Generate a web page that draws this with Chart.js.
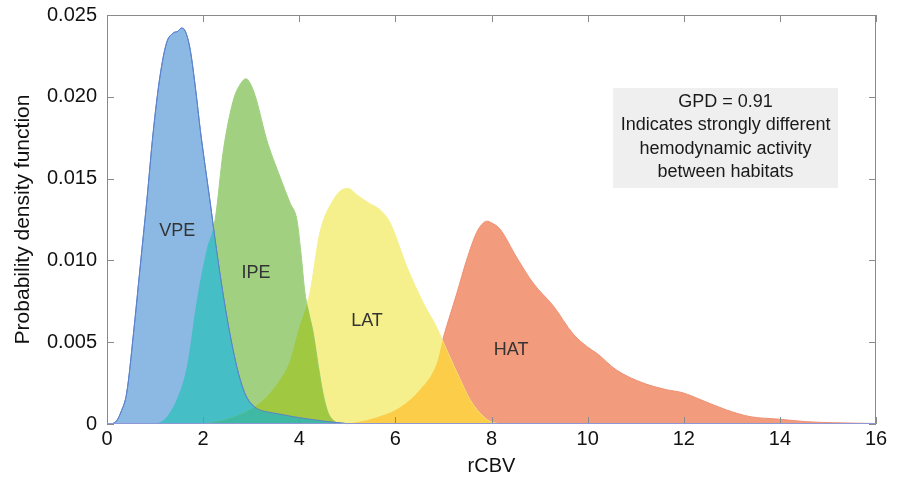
<!DOCTYPE html>
<html>
<head>
<meta charset="utf-8">
<script src="https://cdn.jsdelivr.net/npm/chart.js@4/dist/chart.umd.min.js"></script>
<style>
  html, body { margin: 0; padding: 0; background: #ffffff; }
  #wrap { width: 904px; height: 480px; }
</style>
</head>
<body>
<div id="wrap"><canvas id="c" width="904" height="480"></canvas></div>
<script>
// ---- data ----
const seriesNames = ['VPE', 'IPE', 'LAT', 'HAT'];

const vpeX = [0, 0.1, 0.2, 0.3, 0.41, 0.55, 0.69, 0.83, 0.96, 1.10, 1.24, 1.38, 1.47, 1.55, 1.63, 1.73, 1.85, 1.94, 2.04, 2.14, 2.28, 2.49, 2.70, 2.85, 2.98, 3.15, 3.32, 3.6, 3.87, 4.2, 4.5, 4.8, 5.0];
const vpeY = [0, 0.00002, 0.0002, 0.0008, 0.0019, 0.0055, 0.0096, 0.0137, 0.0178, 0.0212, 0.0233, 0.0239, 0.0240, 0.0242, 0.0240, 0.0229, 0.0203, 0.0180, 0.0158, 0.0137, 0.0106, 0.0066, 0.0035, 0.0020, 0.0013, 0.0009, 0.00075, 0.0006, 0.00045, 0.0003, 0.00018, 0.00008, 0.00002];

const ipeX = [1.0, 1.2, 1.45, 1.66, 1.87, 2.07, 2.25, 2.42, 2.63, 2.78, 2.89, 3.0, 3.11, 3.32, 3.6, 3.81, 3.95, 4.03, 4.12, 4.2, 4.29, 4.4, 4.5, 4.6, 4.72, 4.85];
const ipeY = [0, 0.0003, 0.0015, 0.0035, 0.0076, 0.0106, 0.0125, 0.0167, 0.0198, 0.0208, 0.0211, 0.0207, 0.0198, 0.0174, 0.0151, 0.0135, 0.0125, 0.0106, 0.0080, 0.0068, 0.0056, 0.0035, 0.0018, 0.0007, 0.0002, 0];

const latX = [2.0, 2.5, 3.04, 3.3, 3.6, 3.8, 3.98, 4.22, 4.43, 4.71, 4.88, 5.02, 5.2, 5.45, 5.68, 5.89, 6.24, 6.58, 6.86, 7.07, 7.35, 7.55, 7.83, 8.0, 8.2];
const latY = [0, 0.0003, 0.0010, 0.0016, 0.0027, 0.0038, 0.0057, 0.0080, 0.0117, 0.0137, 0.0143, 0.0144, 0.0140, 0.0135, 0.0131, 0.0123, 0.0096, 0.0074, 0.0059, 0.0045, 0.0027, 0.0015, 0.00045, 0.00012, 0];

const hatX = [5.0, 5.2, 5.6, 6.03, 6.51, 6.86, 7.0, 7.28, 7.48, 7.69, 7.8, 7.9, 8.0, 8.18, 8.52, 8.87, 9.29, 9.7, 10.0, 10.2, 10.6, 11.16, 11.64, 11.99, 12.34, 12.89, 13.38, 14.0, 14.56, 15.1, 16.0];
const hatY = [0, 0.0001, 0.0004, 0.0009, 0.0021, 0.0037, 0.0053, 0.0080, 0.0100, 0.0117, 0.0122, 0.0124, 0.0123, 0.0119, 0.0102, 0.0086, 0.0072, 0.0055, 0.0047, 0.0043, 0.0033, 0.0025, 0.0021, 0.0019, 0.0015, 0.00086, 0.00045, 0.00029, 0.00014, 0.00008, 0.00003];

const xTickValues = [0, 2, 4, 6, 8, 10, 12, 14, 16];
const yTickValues = [0, 0.005, 0.010, 0.015, 0.020, 0.025];
const yTickLabels = ['0', '0.005', '0.010', '0.015', '0.020', '0.025'];

const noteLines = ['GPD = 0.91', 'Indicates strongly different', 'hemodynamic activity', 'between habitats'];

// ---- styling ----
const fillColors = ['#8cb9e4', '#a0d080', '#f5f08c', '#f29b7d'];
const borderColors = ['#5a82cc', '#a0d080', '#f5f08c', '#ee9072'];
const overlapStyles = [
  [0, 1, '#46bec6'],
  [1, 2, '#a0c840'],
  [2, 3, '#fccd48'],
  [0, 2, '#3fb9a4']
];
const labelPos = { VPE: [1.46, 0.0118], IPE: [3.10, 0.00923], LAT: [5.41, 0.0063], HAT: [8.41, 0.00452] };
const FONT = '"Liberation Sans", Arial, Helvetica, sans-serif';

function pts(xs, ys) { return xs.map((x, i) => ({ x: x, y: ys[i] })); }
const allX = [vpeX, ipeX, latX, hatX];
const allY = [vpeY, ipeY, latY, hatY];

const datasets = seriesNames.map((name, i) => ({
  label: name,
  data: pts(allX[i], allY[i]),
  backgroundColor: fillColors[i],
  borderColor: borderColors[i],
  borderWidth: 1,
  fill: 'origin',
  pointRadius: 0,
  tension: 0.4,
  cubicInterpolationMode: 'monotone'
}));

function areaPath(ctx, chart, i) {
  const meta = chart.getDatasetMeta(i);
  const line = meta.dataset;
  const p = meta.data;
  const y0 = chart.scales.y.getPixelForValue(0);
  ctx.beginPath();
  line.path(ctx);
  ctx.lineTo(p[p.length - 1].x, y0);
  ctx.lineTo(p[0].x, y0);
  ctx.closePath();
}

const overlapPlugin = {
  id: 'overlaps',
  afterDatasetsDraw(chart) {
    const ctx = chart.ctx;
    const a = chart.chartArea;
    overlapStyles.forEach(([i, j, color]) => {
      ctx.save();
      ctx.beginPath();
      ctx.rect(a.left, a.top, a.right - a.left, a.bottom - a.top);
      ctx.clip();
      areaPath(ctx, chart, i);
      ctx.clip();
      areaPath(ctx, chart, j);
      ctx.fillStyle = color;
      ctx.fill();
      ctx.restore();
    });
    // blue outline on top
    ctx.save();
    ctx.beginPath();
    chart.getDatasetMeta(0).dataset.path(ctx);
    ctx.strokeStyle = borderColors[0];
    ctx.lineWidth = 1;
    ctx.stroke();
    ctx.restore();

    // series labels
    const xs = chart.scales.x, ys = chart.scales.y;
    ctx.save();
    ctx.font = '18px ' + FONT;
    ctx.fillStyle = '#333333';
    ctx.textAlign = 'center';
    ctx.textBaseline = 'middle';
    seriesNames.forEach(n => {
      const p = labelPos[n];
      ctx.fillText(n, xs.getPixelForValue(p[0]), ys.getPixelForValue(p[1]));
    });
    // note box
    const bx0 = xs.getPixelForValue(10.53), bx1 = xs.getPixelForValue(15.21);
    const by0 = ys.getPixelForValue(0.02054), by1 = ys.getPixelForValue(0.01443);
    ctx.fillStyle = '#efefef';
    ctx.fillRect(bx0, by0, bx1 - bx0, by1 - by0);
    ctx.fillStyle = '#1a1a1a';
    ctx.font = '18px ' + FONT;
    const cx = (bx0 + bx1) / 2;
    noteLines.forEach((t, k) => {
      ctx.fillText(t, cx, by0 + 14 + k * 23.3);
    });
    ctx.restore();
  },
  afterDraw(chart) {
    const ctx = chart.ctx;
    const a = chart.chartArea;
    const xs = chart.scales.x, ys = chart.scales.y;
    ctx.save();
    ctx.strokeStyle = '#8a8a8a';
    ctx.lineWidth = 1;
    // frame
    ctx.beginPath();
    ctx.moveTo(a.left, a.top + 0.5); ctx.lineTo(a.right, a.top + 0.5);
    ctx.moveTo(a.right - 0.5, a.top); ctx.lineTo(a.right - 0.5, a.bottom);
    ctx.moveTo(a.left + 0.5, a.top); ctx.lineTo(a.left + 0.5, a.bottom);
    ctx.stroke();
    // inward ticks
    ctx.beginPath();
    const L = 7;
    xTickValues.forEach(v => {
      const px = Math.round(xs.getPixelForValue(v)) + 0.5;
      ctx.moveTo(px, a.bottom); ctx.lineTo(px, a.bottom - L);
      ctx.moveTo(px, a.top); ctx.lineTo(px, a.top + L);
    });
    yTickValues.forEach(v => {
      const py = Math.round(ys.getPixelForValue(v)) + 0.5;
      ctx.moveTo(a.left, py); ctx.lineTo(a.left + L, py);
      ctx.moveTo(a.right, py); ctx.lineTo(a.right - L, py);
    });
    ctx.stroke();
    // bottom baseline
    ctx.strokeStyle = '#8f98d6';
    ctx.beginPath();
    ctx.moveTo(a.left, a.bottom - 0.5); ctx.lineTo(a.right, a.bottom - 0.5);
    ctx.stroke();
    ctx.restore();
  }
};

new Chart(document.getElementById('c'), {
  type: 'line',
  data: { datasets: datasets },
  plugins: [overlapPlugin],
  options: {
    responsive: false,
    devicePixelRatio: 1,
    animation: false,
    layout: { padding: { left: 0, top: 15, right: 28, bottom: 0 } },
    plugins: { legend: { display: false }, tooltip: { enabled: false } },
    scales: {
      x: {
        type: 'linear',
        min: 0, max: 16,
        afterFit(s) { s.height = 56; s.paddingLeft = 0; s.paddingRight = 0; },
        afterBuildTicks(s) { s.ticks = xTickValues.map(v => ({ value: v })); },
        grid: { display: false, drawTicks: false },
        border: { display: false },
        ticks: { padding: 3, color: '#111111', font: { family: FONT, size: 20 }, maxRotation: 0,
                 callback: v => String(v) },
        title: { display: true, text: 'rCBV', color: '#111111', font: { family: FONT, size: 20 }, padding: { top: 0, bottom: 2 } }
      },
      y: {
        type: 'linear',
        min: 0, max: 0.025,
        afterFit(s) { s.width = 107; s.paddingTop = 0; s.paddingBottom = 0; },
        afterBuildTicks(s) { s.ticks = yTickValues.map(v => ({ value: v })); },
        grid: { display: false, drawTicks: false },
        border: { display: false },
        ticks: { padding: 10, color: '#111111', font: { family: FONT, size: 20 },
                 callback: (v) => { const k = yTickValues.findIndex(t => Math.abs(t - v) < 1e-9); return k >= 0 ? yTickLabels[k] : ''; } },
        title: { display: true, text: 'Probability density function', color: '#111111', font: { family: FONT, size: 21 }, padding: { top: 11, bottom: 0 } }
      }
    }
  }
});
</script>
</body>
</html>
